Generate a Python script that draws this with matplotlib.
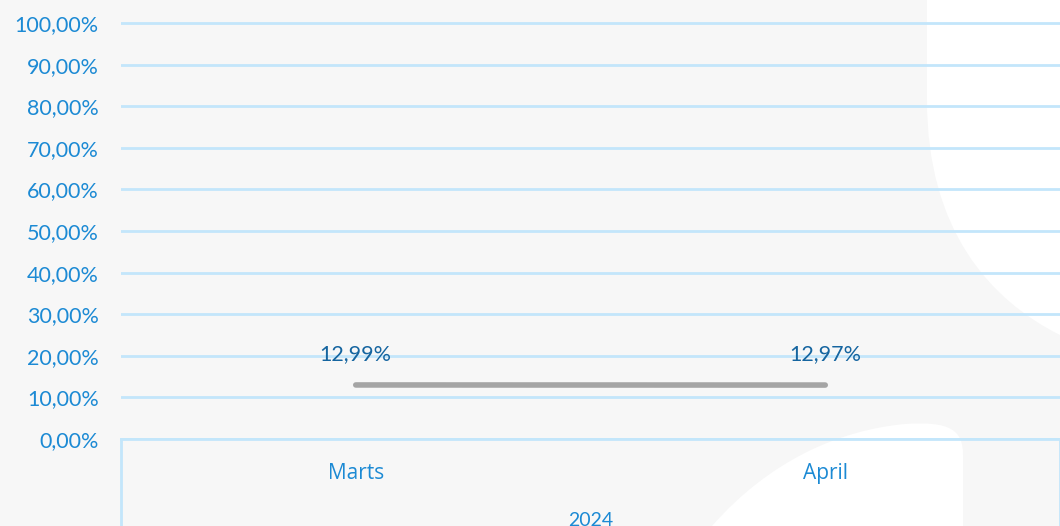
import matplotlib.pyplot as plt
from matplotlib.path import Path
from matplotlib.patches import PathPatch

months = ['Marts', 'April']
values = [12.99, 12.97]
year = '2024'
yticks = [0, 10, 20, 30, 40, 50, 60, 70, 80, 90, 100]

W, H = 1060, 526
fig = plt.figure(figsize=(W / 100, H / 100), dpi=100)
fig.patch.set_facecolor('#f7f7f7')

# background shapes, in pixel coords
bg = fig.add_axes([0, 0, 1, 1], zorder=0)
bg.set_xlim(0, W)
bg.set_ylim(H, 0)
bg.axis('off')
top_right = Path([(927, 0), (927, 100), (927, 230), (990, 300), (1060, 335), (1060, 0), (927, 0)],
                 [Path.MOVETO, Path.LINETO, Path.CURVE4, Path.CURVE4, Path.CURVE4, Path.LINETO, Path.CLOSEPOLY])
bottom = Path([(712, 526), (770, 460), (840, 430), (905, 424), (950, 421), (963, 430), (963, 455),
               (963, 526), (712, 526)],
              [Path.MOVETO, Path.CURVE4, Path.CURVE4, Path.CURVE4, Path.CURVE4, Path.CURVE4, Path.CURVE4,
               Path.LINETO, Path.CLOSEPOLY])
bg.add_patch(PathPatch(top_right, facecolor='white', edgecolor='none'))
bg.add_patch(PathPatch(bottom, facecolor='white', edgecolor='none'))

left = 121 / W
bottom_y = (H - 439) / H
ax = fig.add_axes([left, bottom_y, 1 - left, 105 * 4.16 / H], zorder=1)
ax.set_facecolor('none')
ax.set_xlim(-0.5, 1.5)
ax.set_ylim(0, 105)

grid_c = '#c3e6fb'
tick_c = '#1c8ad4'
ax.set_yticks(yticks)
ax.set_yticklabels([f'{t:.2f}'.replace('.', ',') + '%' for t in yticks],
                   fontsize=15.5, color=tick_c, family='Lato')
ax.yaxis.grid(True, color=grid_c, linewidth=2)
ax.set_axisbelow(True)
ax.tick_params(axis='y', length=0, pad=16)
ax.tick_params(axis='x', length=0, pad=17)
ax.set_xticks(range(len(months)))
ax.set_xticklabels(months, fontsize=15, color=tick_c, family='Open Sans')
for s in ['top', 'right', 'left']:
    ax.spines[s].set_visible(False)
ax.spines['bottom'].set_color(grid_c)
ax.spines['bottom'].set_linewidth(2)

# category separators below axis
for xs in [-0.5, 1.5]:
    ax.plot([xs, xs], [0, -25], color=grid_c, linewidth=2, clip_on=False)

x = list(range(len(months)))
ax.plot(x, values, color='#a5a5a5', linewidth=4, solid_capstyle='round', zorder=3)
for xi, v in zip(x, values):
    ax.annotate(f'{v:.2f}'.replace('.', ',') + '%', (xi, v), xytext=(0, 15),
                textcoords='offset points', ha='center', va='bottom',
                fontsize=15.5, color='#1565a0', family='Lato')

ax.text(0.5, -81 / (105 * 4.16), year, transform=ax.transAxes, ha='center', va='center',
        fontsize=14, color=tick_c, family='Lato')

fig.savefig('out.png', dpi=100, facecolor=fig.get_facecolor())
